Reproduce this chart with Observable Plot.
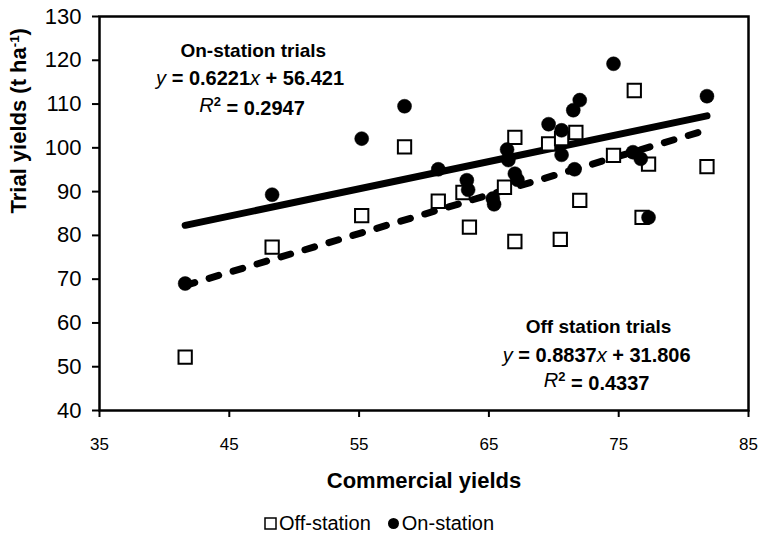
<!DOCTYPE html>
<html>
<head>
<meta charset="utf-8">
<script src="https://cdn.jsdelivr.net/npm/d3@7"></script>
<script src="https://cdn.jsdelivr.net/npm/@observablehq/plot@0.6"></script>
<style>
  html, body { margin: 0; padding: 0; background: white; }
  #chart { width: 758px; }
  .legend { width: 758px; height: 47px; display: flex; justify-content: center; align-items: center;
    font-family: "Liberation Sans", Arial, sans-serif; font-size: 20px; color: black; }
  .legend span.item { display: inline-flex; align-items: center; margin: 0 8px; }
  .legend svg { margin-right: 2px; }
</style>
</head>
<body>
<div id="chart"></div>
<script>
// ---- data ----
const offX = [41.6, 48.3, 55.2, 58.5, 61.1, 63.0, 63.5, 66.2, 67.0, 67.0, 69.6, 70.6, 70.5, 71.7, 72.0, 74.6, 76.2, 76.8, 77.3, 81.8];
const offY = [52.2, 77.3, 84.5, 100.2, 87.8, 89.8, 81.9, 91.0, 102.4, 78.6, 100.9, 102.1, 79.1, 103.5, 88.0, 98.3, 113.1, 84.1, 96.3, 95.7];
const onX = [41.6, 48.3, 55.2, 58.5, 61.1, 63.3, 63.4, 65.3, 65.4, 66.4, 66.5, 67.0, 67.2, 69.6, 70.6, 70.6, 71.5, 72.0, 71.6, 74.6, 76.1, 76.7, 77.3, 81.8];
const onY = [69.0, 89.3, 102.1, 109.5, 95.1, 92.6, 90.4, 88.4, 87.1, 99.6, 97.2, 94.1, 92.7, 105.4, 104.0, 98.4, 108.6, 110.9, 95.1, 119.2, 99.0, 97.5, 84.1, 111.8];

const seriesNames = ["Off-station", "On-station"];
const trendSlopes = [0.8837, 0.6221];
const trendIntercepts = [31.806, 56.421];
const trendR2 = [0.4337, 0.2947];
const annotTitles = ["Off station trials", "On-station trials"];

const xTicks = [35, 45, 55, 65, 75, 85];
const yTicks = [40, 50, 60, 70, 80, 90, 100, 110, 120, 130];
const xLabel = "Commercial yields";
const yLabel = "Trial yields (t ha-1)";

// ---- build tables ----
const off = offX.map((x, i) => ({x, y: offY[i]}));
const on = onX.map((x, i) => ({x, y: onY[i]}));
function trend(xs, k) {
  const x0 = d3.min(xs), x1 = d3.max(xs);
  return [x0, x1].map(x => ({x, y: trendSlopes[k] * x + trendIntercepts[k]}));
}
const offTrend = trend(offX, 0);
const onTrend = trend(onX, 1);
const eq = k => `y = ${trendSlopes[k].toFixed(4)}x + ${trendIntercepts[k].toFixed(3)}`;
const r2 = k => `R2 = ${trendR2[k].toFixed(4)}`;

const font = "'Liberation Sans', Arial, sans-serif";
const narrow = "'Liberation Sans Narrow', 'Liberation Sans', Arial, sans-serif";

const chart = Plot.plot({
  width: 758,
  height: 500,
  marginLeft: 99,
  marginRight: 10,
  marginTop: 16,
  marginBottom: 90,
  x: {domain: [35, 85]},
  y: {domain: [40, 130]},
  style: {fontFamily: font, color: "black", background: "white", overflow: "visible"},
  marks: [
    Plot.axisX({ticks: xTicks, tickSize: 7, tickPadding: 20, fontSize: 17, fontFamily: narrow, label: null, strokeWidth: 2}),
    Plot.axisY({ticks: yTicks, tickSize: 7, tickPadding: 11, fontSize: 22, label: null, strokeWidth: 2}),
    Plot.line(onTrend, {x: "x", y: "y", stroke: "black", strokeWidth: 7, strokeLinecap: "round"}),
    Plot.line(offTrend, {x: "x", y: "y", stroke: "black", strokeWidth: 7, strokeLinecap: "round", strokeDasharray: "10,15"}),
    Plot.dot(off, {x: "x", y: "y", symbol: "square", r: 7.5, fill: "white", stroke: "black", strokeWidth: 2}),
    Plot.dot(on, {x: "x", y: "y", symbol: "circle", r: 7, fill: "black", stroke: "black", strokeWidth: 0.5}),
    Plot.frame({stroke: "black", strokeWidth: 2.5}),
    // annotations
    Plot.text([annotTitles[1]], {x: 46.85, y: 122.2, fontSize: 19, fontWeight: "bold", fontFamily: narrow}),
    Plot.text([eq(1)], {x: 46.6, y: 115.8, fontSize: 20, fontWeight: "bold", fontFamily: font}),
    Plot.text([r2(1)], {x: 46.75, y: 109.7, fontSize: 20, fontWeight: "bold", fontFamily: font}),
    Plot.text([annotTitles[0]], {x: 73.45, y: 59.0, fontSize: 19, fontWeight: "bold", fontFamily: narrow}),
    Plot.text([eq(0)], {x: 73.3, y: 52.6, fontSize: 20, fontWeight: "bold", fontFamily: font}),
    Plot.text([r2(0)], {x: 73.3, y: 46.9, fontSize: 20, fontWeight: "bold", fontFamily: font}),
    // axis titles
    Plot.text([xLabel], {frameAnchor: "bottom", dy: 77, fontSize: 22, fontWeight: "bold"}),
    Plot.text([yLabel], {frameAnchor: "left", dx: -81, rotate: -90, fontSize: 22, fontWeight: "bold"})
  ]
});
document.getElementById("chart").appendChild(chart);

// rich text (italics / superscripts)
d3.select(chart).selectAll("text").each(function() {
  const t = this.textContent;
  const sel = d3.select(this);
  if (t === yLabel) {
    sel.text(null);
    sel.append("tspan").text("Trial yields (t ha");
    sel.append("tspan").attr("dy", "-0.5em").attr("font-size", "0.6em").text("-1");
    sel.append("tspan").attr("dy", "0.3em").text(")");
  } else if (/^y = /.test(t)) {
    const m = t.match(/^y = ([\d.]+)x \+ ([\d.]+)$/);
    sel.text(null);
    sel.append("tspan").attr("font-style", "italic").attr("font-weight", "normal").text("y");
    sel.append("tspan").text(" = " + m[1]);
    sel.append("tspan").attr("font-style", "italic").attr("font-weight", "normal").text("x");
    sel.append("tspan").text(" + " + m[2]);
  } else if (/^R2 = /.test(t)) {
    const v = t.slice(5);
    sel.text(null);
    sel.append("tspan").attr("font-style", "italic").attr("font-weight", "normal").text("R");
    sel.append("tspan").attr("dy", "-0.45em").attr("font-size", "0.65em").text("2");
    sel.append("tspan").attr("dy", "0.45em").text(" = " + v);
  }
});

// legend (below the SVG)
const legend = d3.select("body").append("div").attr("class", "legend");
seriesNames.forEach((name, i) => {
  const item = legend.append("span").attr("class", "item");
  const s = item.append("svg").attr("width", 13).attr("height", 13);
  if (i === 0) s.append("rect").attr("x", 1).attr("y", 1).attr("width", 11).attr("height", 11).attr("fill", "white").attr("stroke", "black").attr("stroke-width", 1.5);
  else s.append("circle").attr("cx", 6.5).attr("cy", 6.5).attr("r", 5.5).attr("fill", "black");
  item.append("span").text(name);
});
</script>
</body>
</html>
